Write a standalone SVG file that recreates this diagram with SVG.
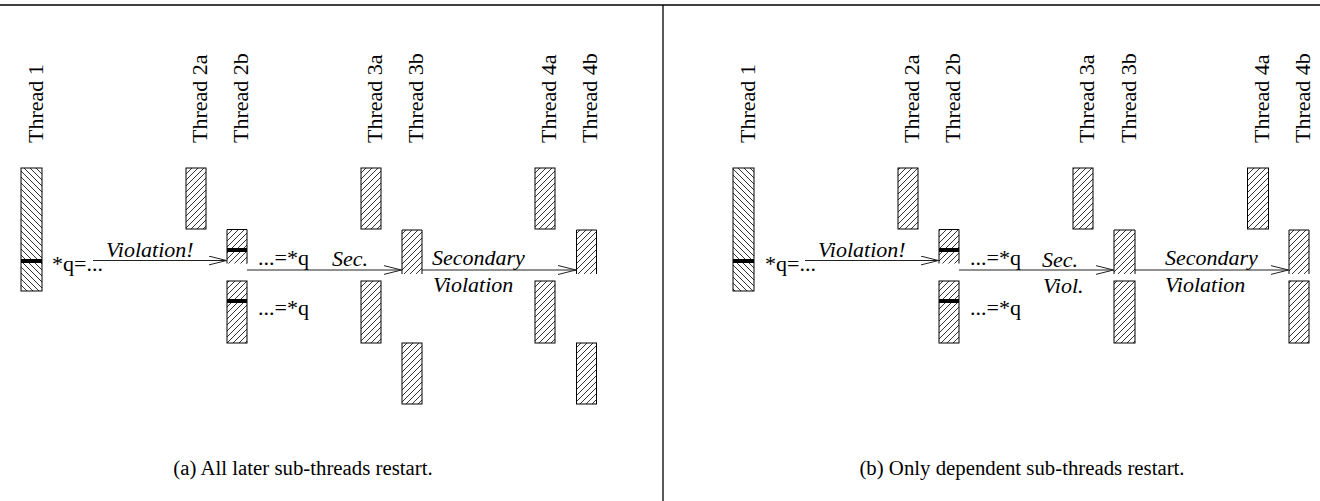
<svg xmlns="http://www.w3.org/2000/svg" width="1320" height="501" viewBox="0 0 1320 501">
<defs>
<pattern id="fwd" patternUnits="userSpaceOnUse" width="6" height="6">
<path d="M-1,7 L7,-1 M-4,4 L4,-4 M2,10 L10,2" stroke="#000" stroke-width="0.8"/>
</pattern>
<pattern id="back" patternUnits="userSpaceOnUse" width="6" height="6">
<path d="M-1,-1 L7,7 M-4,2 L2,8 M2,-4 L8,2" stroke="#000" stroke-width="0.8"/>
</pattern>
<marker id="arr" markerUnits="userSpaceOnUse" markerWidth="20" markerHeight="12" refX="18" refY="5" orient="auto">
<path d="M0,0.5 L18,5 L0,9.5" fill="none" stroke="#222" stroke-width="1"/>
</marker>
</defs>
<style>
.bar{fill:url(#fwd);stroke:#000;stroke-width:1}
.bar1{fill:url(#back);stroke:#000;stroke-width:1}
.open{fill:none;stroke:#000;stroke-width:1}
.hat{fill:url(#fwd)}
.tick{stroke:#000;stroke-width:4}
.cap{text-anchor:middle}
.conn{stroke:#222;stroke-width:1;fill:none;marker-end:url(#arr)}
.frame{stroke:#000;stroke-width:1.3}
</style>
<line class="frame" x1="0" y1="5" x2="1320" y2="5"/>
<line class="frame" x1="663" y1="5" x2="663" y2="501"/>

<g font-family="Liberation Serif, serif" font-size="22" fill="#000">
<!-- LEFT PANEL -->
<g id="a-thread1">
<rect class="bar1" x="21" y="168" width="21" height="123"/>
<line class="tick" x1="21" y1="261" x2="42" y2="261"/>
<text transform="translate(43,143) rotate(-90)">Thread 1</text>
</g>
<g id="a-thread2a">
<rect class="bar" x="186" y="168" width="20" height="61"/>
<text transform="translate(207,143) rotate(-90)">Thread 2a</text>
</g>
<g id="a-thread2b">
<rect class="hat" x="227" y="229.5" width="20" height="34"/>
<path class="open" d="M227,263.5 V229.5 H247 V263.5"/>
<line class="tick" x1="227" y1="250" x2="247" y2="250"/>
<rect class="bar" x="227" y="281" width="20" height="62"/>
<line class="tick" x1="227" y1="301" x2="247" y2="301"/>
<text transform="translate(248,143) rotate(-90)">Thread 2b</text>
</g>
<g id="a-thread3a">
<rect class="bar" x="361" y="168" width="20" height="61"/>
<rect class="bar" x="361" y="281" width="20" height="62"/>
<text transform="translate(382,143) rotate(-90)">Thread 3a</text>
</g>
<g id="a-thread3b">
<rect class="hat" x="402" y="230" width="20" height="44"/>
<path class="open" d="M402,274 V230 H422 V274"/>
<rect class="bar" x="402" y="343" width="20" height="61"/>
<text transform="translate(423,143) rotate(-90)">Thread 3b</text>
</g>
<g id="a-thread4a">
<rect class="bar" x="535" y="168" width="20" height="61"/>
<rect class="bar" x="535" y="281" width="20" height="62"/>
<text transform="translate(556,143) rotate(-90)">Thread 4a</text>
</g>
<g id="a-thread4b">
<rect class="hat" x="576.5" y="230" width="20" height="44"/>
<path class="open" d="M576.5,274 V230 H596.5 V274"/>
<rect class="bar" x="576.5" y="343" width="20" height="61"/>
<text transform="translate(597,143) rotate(-90)">Thread 4b</text>
</g>

<!-- RIGHT PANEL -->
<g id="b-thread1">
<rect class="bar1" x="733" y="168" width="21" height="123"/>
<line class="tick" x1="733" y1="261" x2="754" y2="261"/>
<text transform="translate(755,143) rotate(-90)">Thread 1</text>
</g>
<g id="b-thread2a">
<rect class="bar" x="898" y="168" width="20" height="61"/>
<text transform="translate(919,143) rotate(-90)">Thread 2a</text>
</g>
<g id="b-thread2b">
<rect class="hat" x="939" y="229.5" width="20" height="34"/>
<path class="open" d="M939,263.5 V229.5 H959 V263.5"/>
<line class="tick" x1="939" y1="250" x2="959" y2="250"/>
<rect class="bar" x="939" y="281" width="20" height="62"/>
<line class="tick" x1="939" y1="301" x2="959" y2="301"/>
<text transform="translate(960,143) rotate(-90)">Thread 2b</text>
</g>
<g id="b-thread3a">
<rect class="bar" x="1073" y="168" width="20" height="61"/>
<text transform="translate(1094,143) rotate(-90)">Thread 3a</text>
</g>
<g id="b-thread3b">
<rect class="hat" x="1114" y="230" width="21" height="44"/>
<path class="open" d="M1114,274 V230 H1135 V274"/>
<rect class="bar" x="1114" y="281" width="21" height="62"/>
<text transform="translate(1136,143) rotate(-90)">Thread 3b</text>
</g>
<g id="b-thread4a">
<rect class="bar" x="1247.5" y="168" width="21" height="61"/>
<text transform="translate(1269,143) rotate(-90)">Thread 4a</text>
</g>
<g id="b-thread4b">
<rect class="hat" x="1289" y="230" width="20" height="44"/>
<path class="open" d="M1289,274 V230 H1309 V274"/>
<rect class="bar" x="1289" y="281" width="20" height="62"/>
<text transform="translate(1310,143) rotate(-90)">Thread 4b</text>
</g>

<!-- CONNECTORS -->
<g id="connectors">
<path class="conn" d="M93,260.5 H226.5"/>
<path class="conn" d="M247,270 H401.5"/>
<path class="conn" d="M422,270 H576"/>
<path class="conn" d="M805,260.5 H938.5"/>
<path class="conn" d="M959,270 H1113.5"/>
<path class="conn" d="M1135,270 H1288.5"/>
</g>

<!-- LABELS -->
<g id="labels">
<text x="52" y="271">*q=...</text>
<text font-style="italic" x="106" y="257">Violation!</text>
<text x="258" y="265">...=*q</text>
<text x="258" y="315">...=*q</text>
<text font-style="italic" x="332" y="266">Sec.</text>
<text font-style="italic" x="432" y="265">Secondary</text>
<text font-style="italic" x="433" y="292">Violation</text>

<text x="765" y="271">*q=...</text>
<text font-style="italic" x="818" y="257">Violation!</text>
<text x="970" y="265">...=*q</text>
<text x="970" y="315">...=*q</text>
<text font-style="italic" x="1042" y="267">Sec.</text>
<text font-style="italic" x="1043" y="293">Viol.</text>
<text font-style="italic" x="1165" y="265">Secondary</text>
<text font-style="italic" x="1165" y="292">Violation</text>

<text class="cap" font-size="20.8" x="303" y="475">(a) All later sub-threads restart.</text>
<text class="cap" font-size="20.8" x="1022" y="475">(b) Only dependent sub-threads restart.</text>
</g>
</g>
</svg>
